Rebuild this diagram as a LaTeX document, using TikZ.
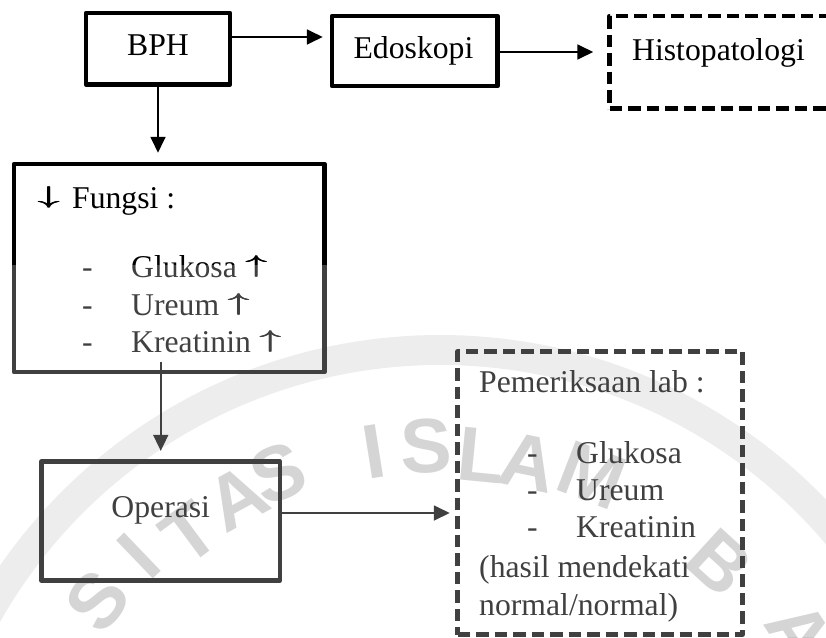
\documentclass[tikz,border=0pt]{standalone}
\usepackage{fontspec}
\usepackage{graphicx}
\setmainfont{Liberation Serif}
\newfontfamily\wmfont{Liberation Sans}
\usetikzlibrary{arrows.meta}
\newsavebox\myarrbox
\newcommand\fatarr[1]{\sbox\myarrbox{$#1$}\raisebox{\depth}{\resizebox*{23pt}{21.5pt}{\rlap{\usebox\myarrbox}\kern0.03\wd\myarrbox\rlap{\usebox\myarrbox}\kern0.03\wd\myarrbox\usebox\myarrbox}}}
\begin{document}
\begin{tikzpicture}[x=1pt, y=-1pt, line join=round,
  box/.style={draw, line width=4.5pt, inner sep=0pt},
  dbox/.style={box, dash pattern=on 12.5pt off 6pt},
  arr/.style={line width=1.8pt, -{Triangle[length=16pt,width=15pt]}},
  txt/.style={inner sep=0pt, font=\fontsize{31.7}{38}\selectfont},
  wm/.style={inner sep=0pt, text=black!22, font=\wmfont\bfseries\fontsize{77}{77}\selectfont}]
\useasboundingbox (0,0) rectangle (826,637);
\clip (0,0) rectangle (826,637);
% watermark
\draw[black!9, line width=30pt] (440,870) circle[radius=520];
\node[wm, rotate=51.9] (w1) at (97,601) {S};
\node[wm, rotate=43.8] (w2) at (139,556) {I};
\node[wm, rotate=36.6] (w3) at (190,533) {T};
\node[wm, rotate=28.6] (w4) at (237,498) {A};
\node[wm, rotate=22.2] (w5) at (278,473) {S};
\node[wm, rotate=9] (w6) at (374,452) {I};
\node[wm, rotate=1.9] (w7) at (426,446) {S};
\node[wm, rotate=-5.6] (w8) at (481,455) {L};
\node[wm, rotate=-11.9] (w9) at (528,462) {A};
\node[wm, rotate=-21] (w10) at (592,475) {M};
\node[wm, rotate=-42.4] (w11) at (720,563) {B};
\node[wm, rotate=-56.9] (w12) at (800,632) {A};
% boxes
\node[box, minimum width=144pt, minimum height=71.5pt] (bph) at (158,48.75) {};
\node[box, minimum width=165.5pt, minimum height=70pt] (edo) at (414.75,51) {};
\node[dbox, minimum width=240.5pt, minimum height=92.5pt] (histo) at (729.75,62.25) {};
\node[box, minimum width=310.5pt, minimum height=208pt] (fungsi) at (169.25,268) {};
\node[box, line width=4.3pt, minimum width=238.5pt, minimum height=119pt] (operasi) at (160.75,521) {};
\node[dbox, minimum width=285pt, minimum height=283pt] (lab) at (600,493) {};
% texts
\node[txt, anchor=base] (tbph) at (158,55) {BPH};
\node[txt, anchor=base] (tedo) at (413.5,58) {Edoskopi};
\node[txt, anchor=base west] (thisto) at (632,60) {Histopatologi};
\node[txt, anchor=base west] (tfungsi) at (37,208) {\fatarr{\downarrow}\hspace{4pt} Fungsi :};
\node[txt, anchor=base west] (fd1) at (82,277) {-};
\node[txt, anchor=base west] (fd2) at (82,315) {-};
\node[txt, anchor=base west] (fd3) at (82,352) {-};
\node[txt, anchor=base west] (fi1) at (131,277) {Glukosa \fatarr{\uparrow}};
\node[txt, anchor=base west] (fi2) at (131,315) {Ureum \fatarr{\uparrow}};
\node[txt, anchor=base west] (fi3) at (131,352) {Kreatinin \fatarr{\uparrow}};
\node[txt, anchor=base] (toperasi) at (160.75,517) {Operasi};
\node[txt, anchor=base west] (tlab) at (479,392) {Pemeriksaan lab :};
\node[txt, anchor=base west] (ld1) at (527,463) {-};
\node[txt, anchor=base west] (ld2) at (527,500) {-};
\node[txt, anchor=base west] (ld3) at (527,537) {-};
\node[txt, anchor=base west] (li1) at (576,463) {Glukosa};
\node[txt, anchor=base west] (li2) at (576,500) {Ureum};
\node[txt, anchor=base west] (li3) at (576,537) {Kreatinin};
\node[txt, anchor=base west] (lh1) at (479,577) {(hasil mendekati};
\node[txt, anchor=base west] (lh2) at (479,615) {normal/normal)};
% connectors
\draw[arr, shorten >=7pt] (bph.east |- 0,37) -- (edo.west |- 0,37);
\draw[arr, shorten >=14pt] (edo.east |- 0,52) -- (histo.west |- 0,52);
\draw[arr, shorten >=9pt] (bph.south) -- (bph.south |- fungsi.north);
\draw[arr, shorten <=-12pt, shorten >=8.5pt] (operasi.north |- fungsi.south) -- (operasi.north);
\draw[arr, shorten >=5.5pt] (operasi.east |- 0,513) -- (lab.west |- 0,513);
% watermark wash
\fill[white, opacity=0.25] (0,265) rectangle (826,637);
\end{tikzpicture}
\end{document}
